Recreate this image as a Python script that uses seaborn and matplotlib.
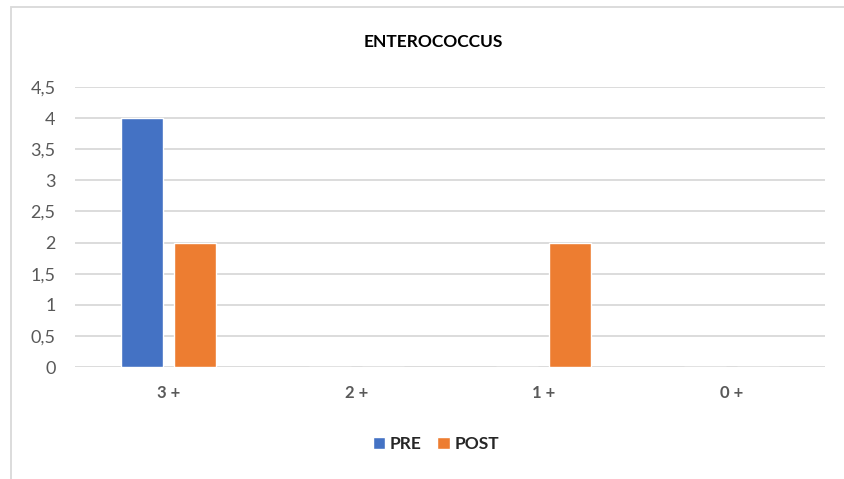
import matplotlib
matplotlib.use("Agg")
import matplotlib.pyplot as plt
from matplotlib.patches import Rectangle
import seaborn as sns
import pandas as pd

# Chart data
categories = ["3 +", "2 +", "1 +", "0 +"]
pre_values = [4, 0, 0, 0]
post_values = [2, 0, 2, 0]
series_names = ["PRE", "POST"]
y_ticks = [0, 0.5, 1, 1.5, 2, 2.5, 3, 3.5, 4, 4.5]
y_tick_labels = ["0", "0,5", "1", "1,5", "2", "2,5", "3", "3,5", "4", "4,5"]
title = "ENTEROCOCCUS"

colors = {"PRE": "#4472C4", "POST": "#ED7D31"}

df = pd.DataFrame({
    "category": categories * 2,
    "value": pre_values + post_values,
    "series": [series_names[0]] * len(categories) + [series_names[1]] * len(categories),
})

sns.set_theme(style="white")
plt.rcParams["font.family"] = ["Lato", "DejaVu Sans"]

fig = plt.figure(figsize=(8.44, 4.79), dpi=100)
ax = fig.add_axes([75 / 844, 1 - 367 / 479, 750 / 844, 280 / 479])

sns.barplot(data=df, x="category", y="value", hue="series", order=categories,
            hue_order=series_names, palette=colors, width=0.565, gap=0.21,
            saturation=1, legend=True, ax=ax, zorder=3)

ax.set_ylim(0, 4.5)
ax.set_xlim(-0.5, len(categories) - 0.5)
ax.set_yticks(y_ticks)
ax.set_yticklabels(y_tick_labels)
ax.yaxis.grid(True, color="#d9d9d9", linewidth=1.3, zorder=0)
ax.set_axisbelow(True)
for s in ax.spines.values():
    s.set_visible(False)
ax.tick_params(axis="y", length=0, pad=14, labelsize=13, labelcolor="#595959")
ax.tick_params(axis="x", length=0, pad=13, labelsize=12, labelcolor="#595959")
for lbl in ax.get_xticklabels():
    lbl.set_fontweight("bold")
ax.set_xlabel("")
ax.set_ylabel("")

fig.text(433 / 844, 1 - 42 / 479, title, ha="center", va="center",
         fontsize=12.5, fontweight="bold", color="black")

handles, labels = ax.get_legend_handles_labels()
ax.legend(handles, labels, loc="center", bbox_to_anchor=(436 / 844, 1 - 444 / 479),
          bbox_transform=fig.transFigure, ncol=2, frameon=False,
          handlelength=0.7, handleheight=0.7, handletextpad=0.3, columnspacing=0.9,
          prop={"size": 12.5, "weight": "bold"})

# chart area border
fig.patches.append(Rectangle((11 / 844, -0.1), 1.0, 1 - 7 / 479 + 0.1,
                             transform=fig.transFigure, fill=False,
                             edgecolor="#d9d9d9", linewidth=1.3))

fig.savefig("out.png", dpi=100)
